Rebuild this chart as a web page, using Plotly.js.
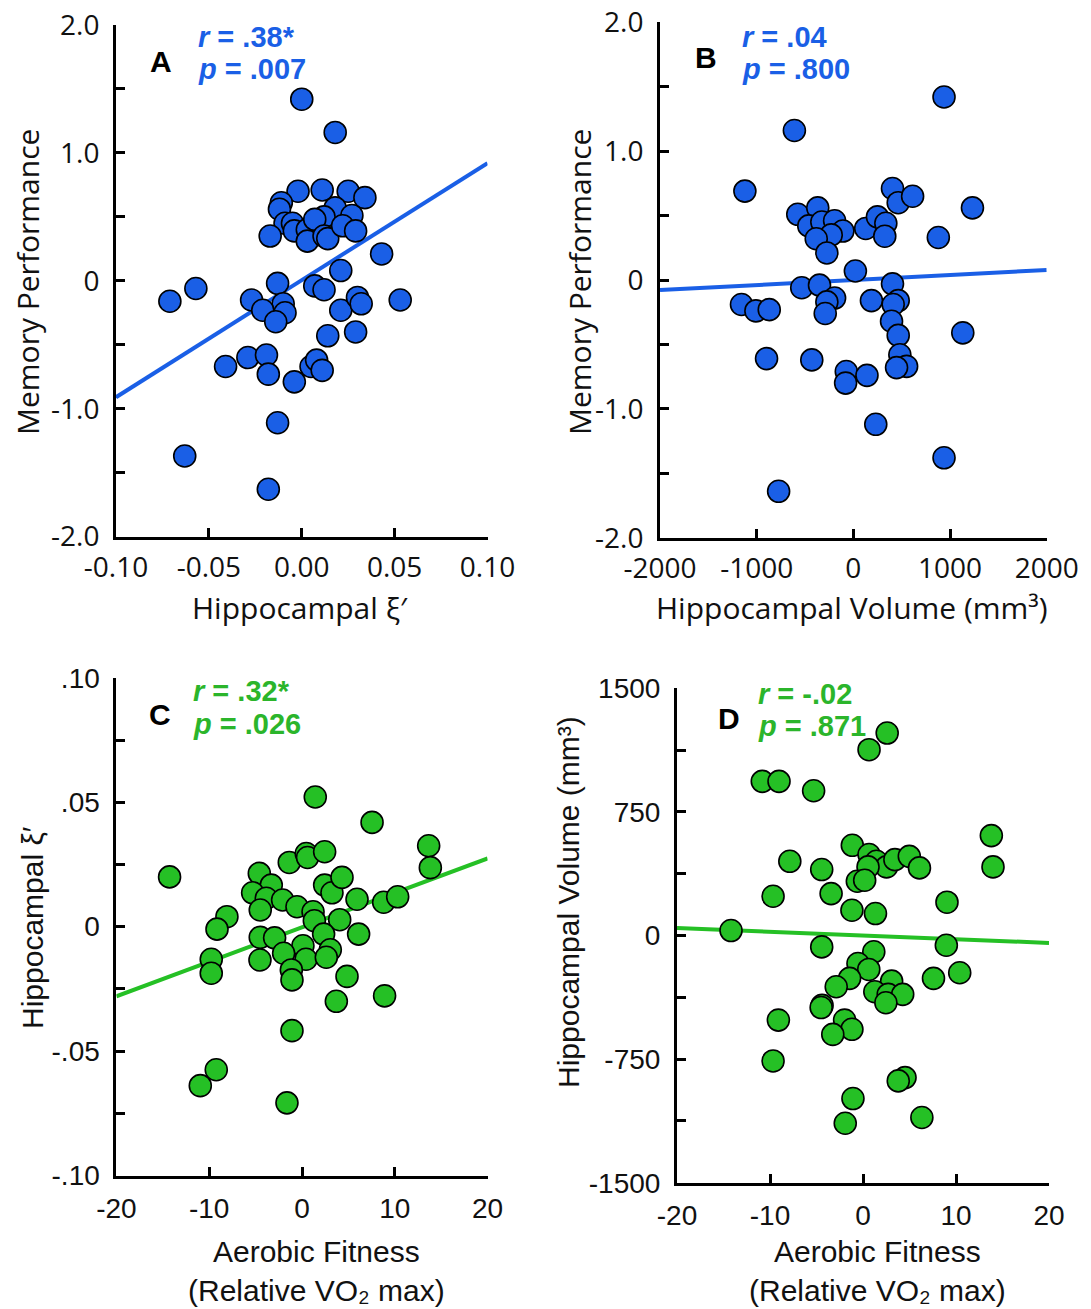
<!DOCTYPE html>
<html>
<head>
<meta charset="utf-8">
<script src="https://cdn.plot.ly/plotly-3.0.1.min.js"></script>
<style>html,body{margin:0;padding:0;background:#fff;}#chart{width:1091px;height:1309px;}</style>
</head>
<body>
<div id="chart"></div>
<script>
// ---------- Data ----------
// Panel A: Hippocampal xi' vs Memory Performance
const xiA  = [0.000,0.018,-0.002,0.011,0.025,0.034,-0.011,-0.012,0.018,0.027,0.012,-0.009,-0.005,-0.004,0.003,0.003,0.007,0.012,0.014,0.022,0.029,-0.017,0.043,0.021,-0.013,0.007,0.012,-0.057,-0.071,0.053,-0.027,-0.010,-0.021,-0.009,-0.014,0.021,0.030,0.032,0.014,0.029,-0.041,-0.029,-0.019,-0.018,-0.004,0.005,0.008,0.011,-0.013,-0.063,-0.018];
const memA = [1.42,1.16,0.70,0.71,0.70,0.65,0.61,0.56,0.57,0.51,0.50,0.45,0.45,0.39,0.40,0.31,0.48,0.35,0.33,0.43,0.39,0.35,0.21,0.08,-0.02,-0.04,-0.07,-0.06,-0.16,-0.15,-0.15,-0.18,-0.23,-0.25,-0.32,-0.23,-0.13,-0.18,-0.43,-0.40,-0.67,-0.60,-0.58,-0.73,-0.79,-0.67,-0.62,-0.70,-1.11,-1.37,-1.63];
const fitAx = [-0.10, 0.10];
const fitAy = [-0.91, 0.92];

// Panel B: Hippocampal Volume vs Memory Performance
const volB = [938,-610,-1122,405,464,613,1232,-575,-368,-461,-326,-194,-108,-229,-384,-274,128,249,336,325,879,21,-534,-350,-194,-274,-291,-1157,-1008,-870,405,187,464,412,395,464,1132,481,551,447,-898,-430,-73,-80,141,232,938,-773];
const memB = [1.42,1.16,0.69,0.71,0.60,0.65,0.56,0.51,0.56,0.42,0.45,0.46,0.38,0.35,0.32,0.21,0.40,0.49,0.44,0.34,0.33,0.07,-0.06,-0.04,-0.14,-0.17,-0.26,-0.19,-0.24,-0.23,-0.03,-0.16,-0.16,-0.19,-0.32,-0.43,-0.41,-0.58,-0.67,-0.68,-0.61,-0.62,-0.71,-0.80,-0.74,-1.12,-1.38,-1.64];
const fitBx = [-2000, 2000];
const fitBy = [-0.078, 0.078];

// Panel C: Aerobic Fitness vs Hippocampal xi'
const fitC  = [1.43,7.55,13.65,13.83,-14.27,-1.37,0.46,0.60,2.44,-4.60,-3.31,-5.32,-3.85,-4.50,-2.09,-0.54,2.44,3.23,4.31,5.93,8.80,10.31,1.19,1.33,4.06,-8.09,-9.16,-4.50,-2.95,2.33,6.10,0.10,-1.98,0.43,3.05,2.62,-9.78,-9.78,-4.53,-1.15,-1.08,4.85,3.70,8.90,-1.08,-9.24,-10.96,-1.62];
const xiC   = [0.0521,0.0419,0.0325,0.0237,0.0200,0.0258,0.0294,0.0278,0.0301,0.0214,0.0167,0.0136,0.0114,0.0067,0.0107,0.0080,0.0167,0.0136,0.0198,0.0110,0.0098,0.0120,0.0060,0.0024,0.0028,0.0040,-0.0010,-0.0043,-0.0045,-0.0030,-0.0030,-0.0077,-0.0107,-0.0131,-0.0093,-0.0123,-0.0131,-0.0187,-0.0134,-0.0174,-0.0214,-0.0200,-0.0300,-0.0278,-0.0418,-0.0575,-0.0639,-0.0708];
const lineCx = [-20, 20];
const lineCy = [-0.028, 0.0274];

// Panel D: Aerobic Fitness vs Hippocampal Volume
const fitD = [2.60,0.65,-10.83,-9.03,-5.31,13.80,13.98,-1.15,0.65,1.45,2.53,3.43,4.98,6.07,0.54,-7.87,-4.44,-0.61,0.18,-9.67,-3.43,9.03,-1.19,1.34,-14.19,-4.44,8.96,1.16,-0.54,0.62,-1.44,-2.88,7.58,10.40,3.08,1.27,2.71,4.27,2.46,-4.40,-4.50,-9.10,-1.98,-1.19,-3.25,-9.67,4.52,3.79,-1.08,-1.91,6.33];
const volD = [1228,1127,935,935,878,606,416,547,491,450,416,460,480,410,416,450,400,329,335,238,254,202,153,133,30,-69,-59,-99,-170,-206,-260,-311,-260,-226,-277,-341,-357,-357,-408,-424,-437,-513,-513,-569,-600,-761,-862,-882,-989,-1139,-1104];
const lineDx = [-20, 20];
const lineDy = [45, -45];

// Tick labels
const tickA_x = [-0.10,-0.05,0,0.05,0.10];
const tickA_xt = ['-0.10','-0.05','0.00','0.05','0.10'];
const tickMem_y = [-2,-1,0,1,2];
const tickMem_yt = ['-2.0','-1.0','0','1.0','2.0'];
const tickB_x = [-2000,-1000,0,1000,2000];
const tickB_xt = ['-2000','-1000','0','1000','2000'];
const tickFit_x = [-20,-10,0,10,20];
const tickFit_xt = ['-20','-10','0','10','20'];
const tickC_y = [-0.1,-0.05,0,0.05,0.1];
const tickC_yt = ['-.10','-.05','0','.05','.10'];
const tickD_y = [-1500,-750,0,750,1500];
const tickD_yt = ['-1500','-750','0','750','1500'];
// unlabelled (minor) ticks between the labelled ones
const minorMem_y = [-1.5,-0.5,0.5,1.5];
const minorC_y = [-0.075,-0.025,0.025,0.075];
const minorD_y = [-1125,-375,375,1125];

// Axis titles
const titleXi = 'Hippocampal ξ′';
const titleVol = 'Hippocampal Volume (mm³)';
const titleMem = 'Memory Performance';
const titleFit = 'Aerobic Fitness<br>(Relative VO₂ max)';

// ---------- Styles ----------
const BLUE = '#1a5fe6';
const GREEN = '#25c025';
const GREENTXT = '#2bb52b';
const W = 1091, H = 1309;
const px = v => v / W;
const py = v => 1 - v / H;

function markerTrace(x, y, color, xa, ya) {
  return {x, y, type: 'scatter', mode: 'markers', xaxis: xa, yaxis: ya,
    marker: {size: 22, color, line: {color: '#000', width: 1.6}}, hoverinfo: 'x+y', showlegend: false};
}
function lineTrace(x, y, color, xa, ya) {
  return {x, y, type: 'scatter', mode: 'lines', xaxis: xa, yaxis: ya,
    line: {color, width: 4}, hoverinfo: 'skip', showlegend: false};
}

const data = [
  lineTrace(fitAx, fitAy, BLUE, 'x', 'y'),
  markerTrace(xiA, memA, BLUE, 'x', 'y'),
  lineTrace(fitBx, fitBy, BLUE, 'x2', 'y2'),
  markerTrace(volB, memB, BLUE, 'x2', 'y2'),
  lineTrace(lineCx, lineCy, GREEN, 'x3', 'y3'),
  markerTrace(fitC, xiC, GREEN, 'x3', 'y3'),
  lineTrace(lineDx, lineDy, GREEN, 'x4', 'y4'),
  markerTrace(fitD, volD, GREEN, 'x4', 'y4')
];

const OPEN = '"Open Sans", "DejaVu Sans", sans-serif';
const ARIAL = '"Liberation Sans", Arial, "DejaVu Sans", sans-serif';

function axis(extra, font, minorVals) {
  const a = Object.assign({
    showline: true, linecolor: '#000', linewidth: 3, mirror: false,
    ticks: 'inside', ticklen: 9, tickwidth: 3, tickcolor: '#000',
    showgrid: false, zeroline: false, tickmode: 'array',
    tickfont: {family: font, size: 28, color: '#111'}, fixedrange: true
  }, extra);
  if (minorVals) {
    a.minor = {tickmode: 'array', tickvals: minorVals, ticks: 'inside', ticklen: 9, tickwidth: 3, tickcolor: '#000', showgrid: false};
  }
  return a;
}

const layout = {
  width: W, height: H,
  margin: {l: 0, r: 0, t: 0, b: 0},
  paper_bgcolor: '#fff', plot_bgcolor: '#fff',
  showlegend: false,
  xaxis:  axis({domain: [px(116), px(487.5)], range: [-0.1, 0.1], tickvals: tickA_x, ticktext: tickA_xt, anchor: 'y', ticklabelstandoff: 4}, OPEN),
  yaxis:  axis({domain: [py(536.6), py(25)], range: [-2, 2], tickvals: tickMem_y, ticktext: tickMem_yt, anchor: 'x', ticklabelstandoff: 8}, OPEN, minorMem_y),
  xaxis2: axis({domain: [px(660), px(1046.7)], range: [-2000, 2000], tickvals: tickB_x, ticktext: tickB_xt, anchor: 'y2', ticklabelstandoff: 4}, OPEN),
  yaxis2: axis({domain: [py(537.7), py(22.3)], range: [-2, 2], tickvals: tickMem_y, ticktext: tickMem_yt, anchor: 'x2', ticklabelstandoff: 8}, OPEN, minorMem_y),
  xaxis3: axis({domain: [px(116.4), px(487.6)], range: [-20, 20], tickvals: tickFit_x, ticktext: tickFit_xt, anchor: 'y3', ticklabelstandoff: 6}, ARIAL),
  yaxis3: axis({domain: [py(1175.5), py(677.8)], range: [-0.1, 0.1], tickvals: tickC_y, ticktext: tickC_yt, anchor: 'x3', ticklabelstandoff: 8}, ARIAL, minorC_y),
  xaxis4: axis({domain: [px(677), px(1049)], range: [-20, 20], tickvals: tickFit_x, ticktext: tickFit_xt, anchor: 'y4', ticklabelstandoff: 6}, ARIAL),
  yaxis4: axis({domain: [py(1182.8), py(688.2)], range: [-1500, 1500], tickvals: tickD_y, ticktext: tickD_yt, anchor: 'x4', ticklabelstandoff: 8}, ARIAL, minorD_y),
  annotations: []
};

function ann(text, x, y, opts) {
  layout.annotations.push(Object.assign({text, x: px(x), y: py(y), xref: 'paper', yref: 'paper',
    showarrow: false, xanchor: 'center', yanchor: 'middle', borderpad: 0}, opts));
}
const letterFont = {family: ARIAL, size: 30, color: '#000', weight: 'bold'};
// panel letters
ann('A', 161, 62, {font: letterFont});
ann('B', 706, 57, {font: letterFont});
ann('C', 160, 715, {font: letterFont});
ann('D', 729, 718, {font: letterFont});
// statistics
const statB = {family: ARIAL, size: 29, color: BLUE, weight: 'bold'};
const statG = {family: ARIAL, size: 29, color: GREENTXT, weight: 'bold'};
ann('<i>r</i> = .38*', 197, 37, {font: statB, xanchor: 'left'});
ann('<i>p</i> = .007', 197, 69, {font: statB, xanchor: 'left'});
ann('<i>r</i> = .04', 741, 37, {font: statB, xanchor: 'left'});
ann('<i>p</i> = .800', 741, 69, {font: statB, xanchor: 'left'});
ann('<i>r</i> = .32*', 192, 691, {font: statG, xanchor: 'left'});
ann('<i>p</i> = .026', 192, 724, {font: statG, xanchor: 'left'});
ann('<i>r</i> = -.02', 757, 694, {font: statG, xanchor: 'left'});
ann('<i>p</i> = .871', 757, 726, {font: statG, xanchor: 'left'});
// axis titles
const tOpen = {family: OPEN, size: 30, color: '#111'};
const tArial = {family: ARIAL, size: 30, color: '#111'};
ann(titleXi, 300, 607, {font: tOpen});
ann(titleVol, 852, 607, {font: tOpen});
ann(titleMem, 28, 282, {font: tOpen, textangle: -90});
ann(titleMem, 580, 282, {font: tOpen, textangle: -90});
ann(titleFit, 316, 1271, {font: tArial});
ann(titleFit, 878, 1271, {font: tArial});
ann(titleXi, 32, 928, {font: tArial, textangle: -90});
ann(titleVol, 568, 902, {font: tArial, textangle: -90});

Plotly.newPlot('chart', data, layout, {displayModeBar: false, staticPlot: true});
</script>
</body>
</html>
